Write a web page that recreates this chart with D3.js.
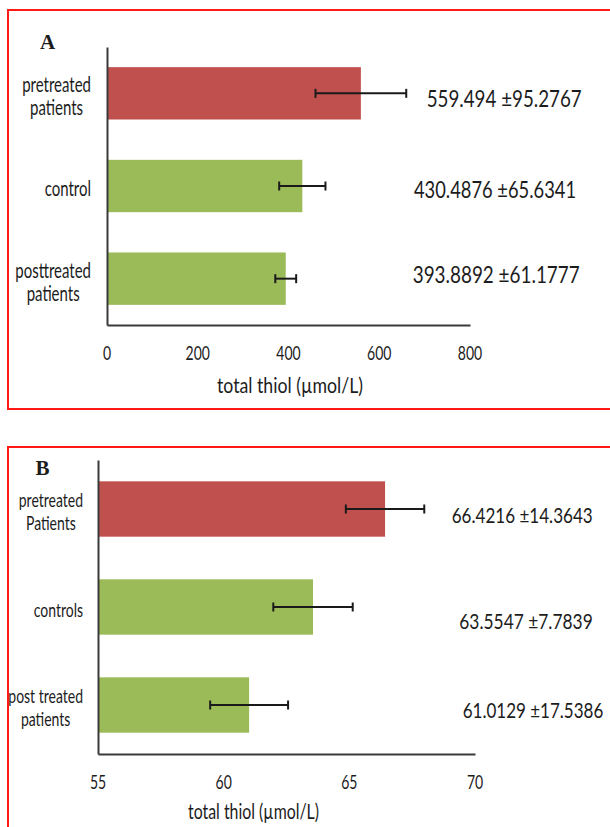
<!DOCTYPE html>
<html>
<head>
<meta charset="utf-8">
<script src="https://cdn.jsdelivr.net/npm/d3@7"></script>
<style>
  html, body { margin: 0; padding: 0; background: #fff; }
  svg { display: block; }
</style>
</head>
<body>
<svg id="chart" width="610" height="827"></svg>
<script>
// Panel A: total thiol by group
const categoriesA = [["pretreated", "patients"], ["control"], ["posttreated", "patients"]];
const meansA = [559.494, 430.4876, 393.8892];
const sdA = [95.2767, 65.6341, 61.1777];
const errorA = [100, 51, 23];          // half-width of the drawn error bars
const ticksA = [0, 200, 400, 600, 800];

// Panel B: total thiol by group
const categoriesB = [["pretreated", "Patients"], ["controls"], ["post treated", "patients"]];
const meansB = [66.4216, 63.5547, 61.0129];
const sdB = [14.3643, 7.7839, 17.5386];
const errorB = [1.56, 1.58, 1.55];
const ticksB = [55, 60, 65, 70];

const axisTitle = "total thiol (\u00b5mol/L)";

const svg = d3.select("#chart");
const FONT = "Lato, 'Open Sans', 'DejaVu Sans', sans-serif";
const INK = "#1c1c1c";
const STRETCH = 1.38;   // tall, narrow lettering
const barColors = ["#C0504D", "#9BBB59", "#9BBB59"];

const panels = [
  {
    letter: "A", letterX: 47.5, letterY: 42,
    frameY: 10, frameH: 399,
    left: 107, right: 470, top: 47, bottom: 325,
    domain: [0, 800], ticks: ticksA,
    categories: categoriesA, means: meansA, sd: sdA, err: errorA,
    catFont: 15, catGap: 16,
    valueFont: 17,
    valueBoxes: [[426.7, 99, 155], [414, 190, 162], [412.7, 275, 167]],
    titleX: 290, titleY: 386, titleW: 146
  },
  {
    letter: "B", letterX: 42.5, letterY: 468,
    frameY: 447, frameH: 400,
    left: 98, right: 475, top: 460, bottom: 754,
    domain: [55, 70], ticks: ticksB,
    categories: categoriesB, means: meansB, sd: sdB, err: errorB,
    catFont: 14, catGap: 15,
    valueFont: 16,
    valueBoxes: [[451.7, 515, 141], [459.3, 620.7, 133.4], [462.7, 710, 140.6]],
    titleX: 253.5, titleY: 812, titleW: 131
  }
];

// stretched text centred vertically on y
function stretchedText(parent, x, y, str, size, anchor, len) {
  const g = parent.append("g").attr("transform", `translate(${x},${y}) scale(1,${STRETCH})`);
  const t = g.append("text")
    .attr("x", 0).attr("y", 0)
    .attr("dy", "0.36em")
    .attr("text-anchor", anchor)
    .attr("font-family", FONT)
    .attr("font-size", size)
    .attr("fill", INK)
    .text(str);
  if (len) t.attr("textLength", len).attr("lengthAdjust", "spacingAndGlyphs");
  return t;
}

panels.forEach(p => {
  const g = svg.append("g");

  // red frame
  g.append("rect")
    .attr("x", 8).attr("y", p.frameY)
    .attr("width", 640).attr("height", p.frameH)
    .attr("fill", "none").attr("stroke", "#ff1a1a").attr("stroke-width", 2);

  // panel letter
  g.append("text")
    .attr("x", p.letterX).attr("y", p.letterY)
    .attr("dy", "0.35em")
    .attr("text-anchor", "middle")
    .attr("font-family", "'Liberation Serif', 'DejaVu Serif', serif")
    .attr("font-weight", "bold")
    .attr("font-size", 21)
    .attr("fill", INK)
    .text(p.letter);

  const x = d3.scaleLinear().domain(p.domain).range([p.left, p.right]);
  const y = d3.scaleBand()
    .domain(d3.range(p.categories.length))
    .range([p.top, p.bottom])
    .paddingInner(0.435).paddingOuter(0.2175);

  // bars
  g.selectAll("rect.bar")
    .data(p.means)
    .join("rect")
    .attr("class", "bar")
    .attr("x", x(p.domain[0]))
    .attr("y", (d, i) => y(i))
    .attr("width", d => x(d) - x(p.domain[0]))
    .attr("height", y.bandwidth())
    .attr("fill", (d, i) => barColors[i]);

  // error bars
  const capH = 9;
  const eb = g.selectAll("g.err")
    .data(p.means.map((m, i) => ({ m, e: p.err[i], i })))
    .join("g").attr("class", "err")
    .attr("stroke", "#1a1a1a").attr("stroke-width", 2);
  eb.append("line")
    .attr("x1", d => x(d.m - d.e)).attr("x2", d => x(d.m + d.e))
    .attr("y1", d => y(d.i) + y.bandwidth() / 2)
    .attr("y2", d => y(d.i) + y.bandwidth() / 2);
  [-1, 1].forEach(s => {
    eb.append("line")
      .attr("x1", d => x(d.m + s * d.e)).attr("x2", d => x(d.m + s * d.e))
      .attr("y1", d => y(d.i) + y.bandwidth() / 2 - capH / 2)
      .attr("y2", d => y(d.i) + y.bandwidth() / 2 + capH / 2);
  });

  // axes
  const xAxis = g.append("g")
    .attr("transform", `translate(0,${p.bottom})`)
    .call(d3.axisBottom(x).tickValues(p.ticks).tickSize(0).tickSizeOuter(0).tickFormat(""));
  const yAxis = g.append("g")
    .attr("transform", `translate(${p.left},0)`)
    .call(d3.axisLeft(y).tickSize(0).tickSizeOuter(0).tickFormat(""));
  [xAxis, yAxis].forEach(a => {
    a.select(".domain").attr("stroke", "#3a3a3a").attr("stroke-width", 2);
    a.selectAll(".tick text").remove();
  });

  // tick labels
  p.ticks.forEach(t => {
    stretchedText(g, x(t), p.bottom + 28, String(t), 14, "middle");
  });

  // axis title
  stretchedText(g, p.titleX, p.titleY, axisTitle, 15, "middle", p.titleW);

  // category labels: right-aligned block, centred lines
  p.categories.forEach((lines, i) => {
    const cy = y(i) + y.bandwidth() / 2 + 3;
    const texts = lines.map((ln, j) =>
      stretchedText(g, 0, cy + (j - (lines.length - 1) / 2) * 23, ln, p.catFont, "middle"));
    const widths = texts.map(t => t.node().getComputedTextLength());
    const maxW = d3.max(widths);
    const cx = p.left - p.catGap - maxW / 2;
    texts.forEach(t => {
      const parent = d3.select(t.node().parentNode);
      const tr = parent.attr("transform").replace(/translate\(0,/, `translate(${cx},`);
      parent.attr("transform", tr);
    });
  });

  // mean ± SD labels
  p.means.forEach((m, i) => {
    const [bx, by, bw] = p.valueBoxes[i];
    stretchedText(g, bx, by, `${m} \u00b1${p.sd[i]}`, p.valueFont, "start", bw);
  });
});
</script>
</body>
</html>
